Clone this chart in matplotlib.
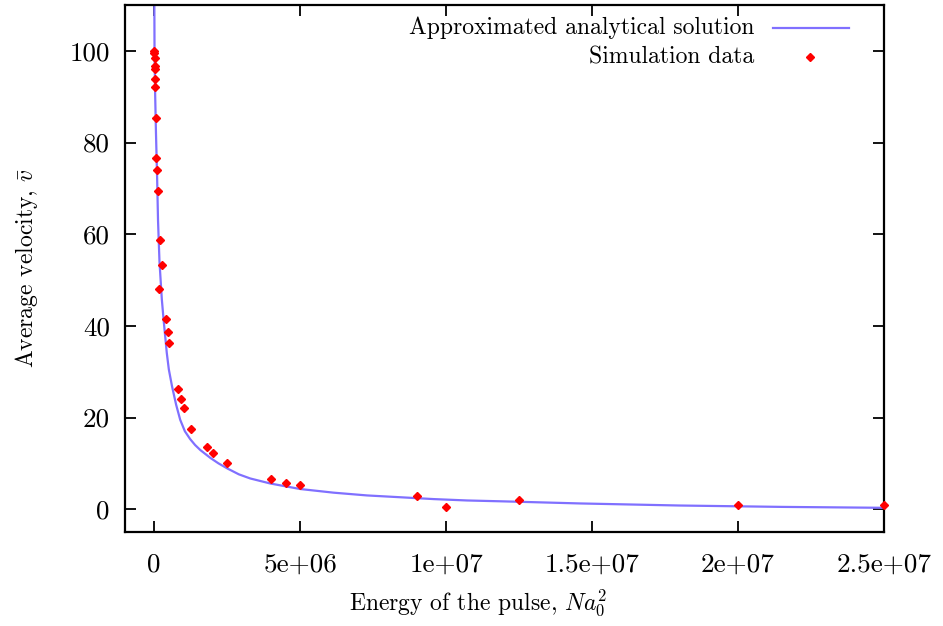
import numpy as np
import matplotlib
matplotlib.use('Agg')
import matplotlib.pyplot as plt

plt.rcParams['font.family'] = 'cmr10'
plt.rcParams['mathtext.fontset'] = 'cm'
plt.rcParams['axes.unicode_minus'] = False

# Approximated analytical solution (energy in units of 1e6)
curve_energy = np.array([0.003, 0.01, 0.03, 0.06, 0.1, 0.13, 0.18, 0.26, 0.32, 0.43,
                         0.5, 0.61, 0.75, 0.89, 1.05, 1.23, 1.4, 1.58, 1.92, 2.2,
                         2.5, 2.9, 3.29, 3.98, 5.0, 6.15, 7.29, 8.44, 9.58, 10.72,
                         12.0, 14.6, 18.0, 21.5, 25.0]) * 1e6
curve_vel = np.array([112, 100, 91, 82, 72, 63, 54, 45.8, 41.4, 34.1,
                      30.5, 26.8, 22.8, 19.5, 17.0, 15.3, 14.0, 12.9, 11.2, 10.0,
                      8.9, 7.6, 6.7, 5.6, 4.4, 3.6, 3.0, 2.6, 2.2, 1.9,
                      1.7, 1.25, 0.8, 0.5, 0.3])

# Simulation data
sim_energy = np.array([0, 0, 0.01, 0.01, 0.01, 0.02, 0.03, 0.06, 0.07, 0.10,
                       0.13, 0.19, 0.25, 0.18, 0.40, 0.46, 0.51, 0.81, 0.92, 1.01,
                       1.26, 1.81, 2.01, 2.50, 4.0, 4.5, 5.0, 9.0, 10.0, 12.5,
                       20.0, 25.0]) * 1e6
sim_vel = np.array([100, 99.6, 98.5, 96.7, 96.1, 93.8, 92.2, 85.4, 76.7, 74.1,
                    69.5, 58.8, 53.3, 48.1, 41.5, 38.6, 36.2, 26.2, 24.0, 22.1,
                    17.5, 13.6, 12.3, 10.0, 6.6, 5.8, 5.2, 2.9, 0.4, 2.0,
                    0.9, 0.9])

xticks = [0, 5e6, 1e7, 1.5e7, 2e7, 2.5e7]
xtick_labels = ['0', '5e+06', '1e+07', '1.5e+07', '2e+07', '2.5e+07']
yticks = [0, 20, 40, 60, 80, 100]

line_color = '#8070ff'
tick_fs = 19.5
text_fs = 17

fig = plt.figure(figsize=(9.43, 6.26), dpi=100)
ax = fig.add_axes([0.1326, 0.150, 0.8048, 0.842])

ax.plot(curve_energy, curve_vel, color=line_color, lw=1.6)
ax.plot(sim_energy, sim_vel, 'D', color='red', ms=4.5, mec='red',
        clip_on=False, zorder=3)

ax.set_xlim(-1e6, 2.5e7)
ax.set_ylim(-5, 110)
ax.set_xticks(xticks)
ax.set_xticklabels(xtick_labels)
ax.set_yticks(yticks)
ax.tick_params(direction='in', length=8, width=1.3, top=True, right=True,
               labelsize=tick_fs)
ax.tick_params(axis='x', pad=15)
ax.tick_params(axis='y', pad=11)
for s in ax.spines.values():
    s.set_linewidth(1.6)

ax.set_xlabel(r'Energy of the pulse, $Na_0^2$', fontsize=text_fs)
ax.xaxis.set_label_coords(0.465, -0.106)
ax.set_ylabel(r'Average velocity, $\bar{v}$', fontsize=text_fs, labelpad=21)

# gnuplot-style key: right-aligned text, sample to the right
ax.text(0.829, 0.956, 'Approximated analytical solution', transform=ax.transAxes,
        ha='right', va='center', fontsize=text_fs)
ax.plot([0.854, 0.954], [0.956, 0.956], color=line_color, lw=1.6,
        transform=ax.transAxes, clip_on=False)
ax.text(0.829, 0.901, 'Simulation data', transform=ax.transAxes,
        ha='right', va='center', fontsize=text_fs)
ax.plot([0.903], [0.901], 'D', color='red', ms=4.5, transform=ax.transAxes,
        clip_on=False)

fig.savefig('out.png', dpi=100)
